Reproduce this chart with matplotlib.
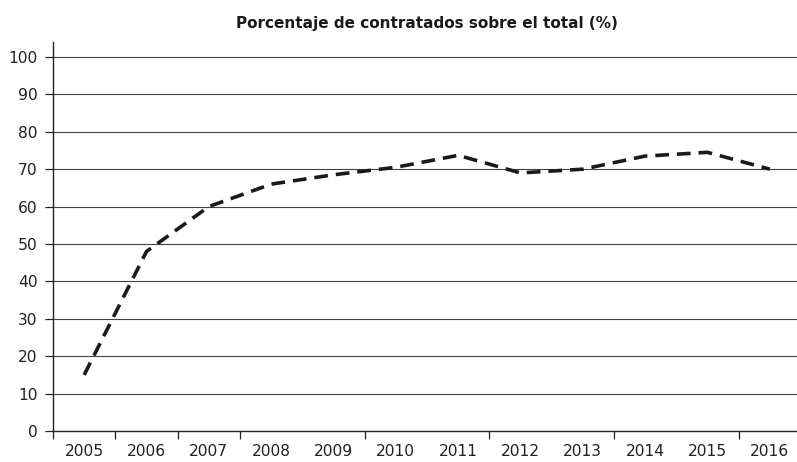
import matplotlib.pyplot as plt

# porcentaje de contratados sobre el total, por año
years = ['2005', '2006', '2007', '2008', '2009', '2010',
         '2011', '2012', '2013', '2014', '2015', '2016']
values = [15, 48, 60, 66, 68.5, 70.5, 73.7, 69, 70, 73.5, 74.5, 70]
y_ticks = [0, 10, 20, 30, 40, 50, 60, 70, 80, 90, 100]
# boundaries that carry a tick mark on the category axis
x_boundaries = [0, 1, 2, 3, 5, 7, 9, 11]

plt.rcParams['font.family'] = ['DejaVu Sans']

fig = plt.figure(figsize=(7.97, 4.62), dpi=100)
ax = fig.add_axes([53 / 797, 31 / 462, 748 / 797, 389 / 462])

centers = [i + 0.5 for i in range(len(years))]
ax.plot(centers, values, color='#1a1a1a', linewidth=2.6,
        linestyle=(0, (3.8, 2.2)), solid_capstyle='butt', zorder=3)

# horizontal grid
for v in y_ticks[1:]:
    ax.axhline(v, color='#444444', linewidth=0.8, zorder=1)

ax.set_xlim(0, 12)
ax.set_ylim(0, 104)

ax.set_yticks(y_ticks)
ax.set_yticklabels([str(v) for v in y_ticks], fontsize=11.2, color='#222222')
ax.tick_params(axis='y', direction='out', length=6, width=0.9, pad=5, color='#222222')

ax.set_xticks(centers)
ax.set_xticklabels(years, fontsize=11.2, color='#222222')
ax.tick_params(axis='x', which='major', length=0, pad=9)
ax.set_xticks(x_boundaries, minor=True)
ax.tick_params(axis='x', which='minor', direction='out', length=6, width=0.9, color='#222222')

for side in ['top', 'right']:
    ax.spines[side].set_visible(False)
for side in ['left', 'bottom']:
    ax.spines[side].set_color('#222222')
    ax.spines[side].set_linewidth(1.0)

ax.set_title('Porcentaje de contratados sobre el total (%)', fontsize=11,
             fontweight='bold', color='#1a1a1a', pad=10)

fig.savefig('out.png', dpi=100)
